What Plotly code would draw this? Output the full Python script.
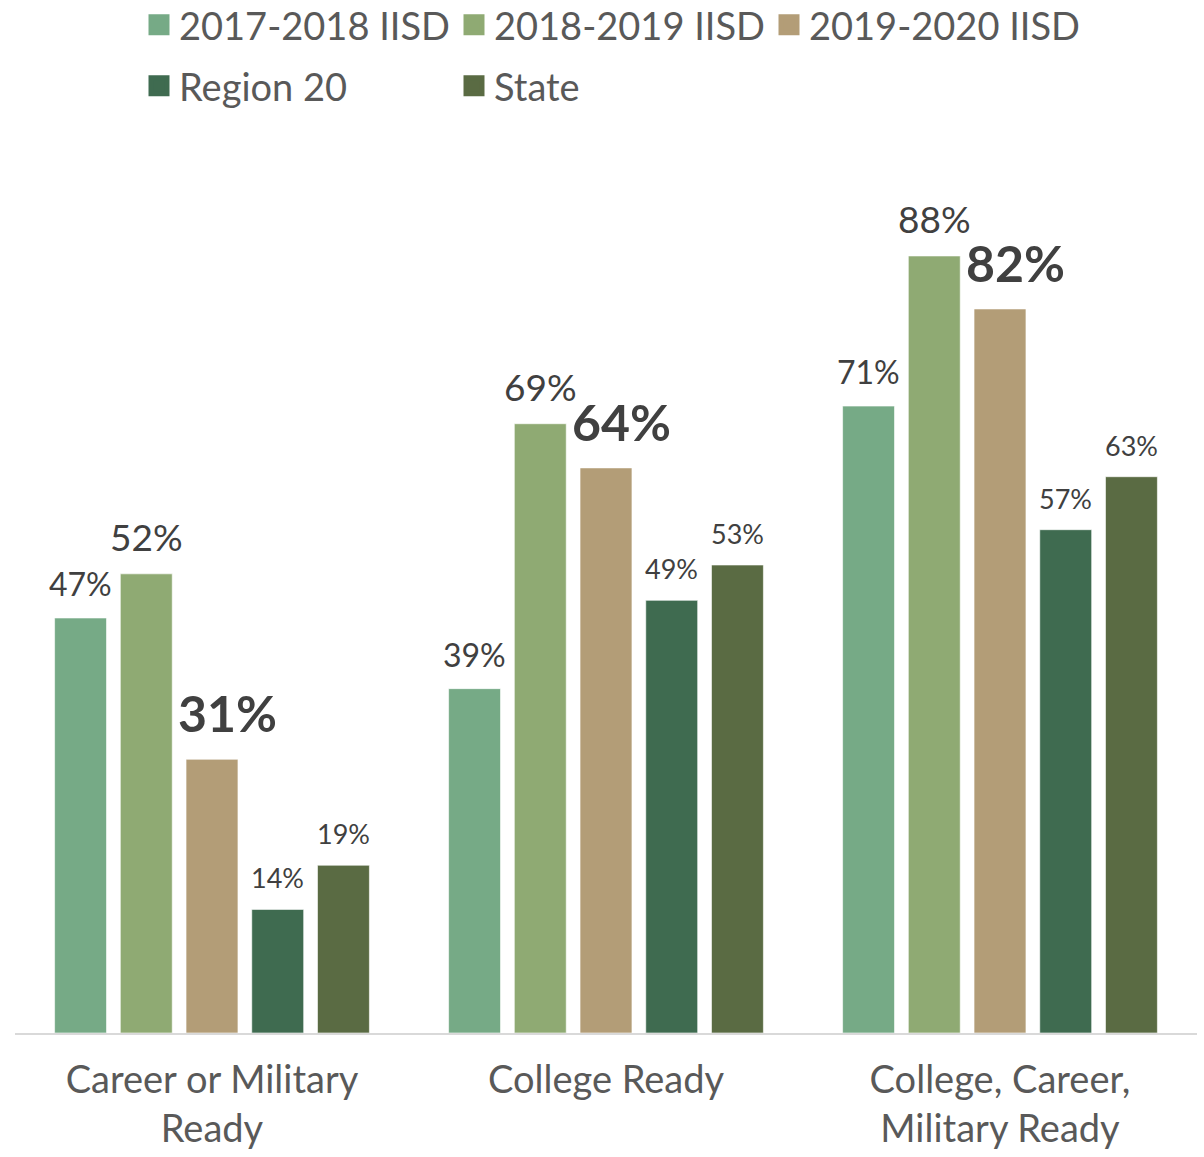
import plotly.graph_objects as go

categories = ["Career or Military<br>Ready", "College Ready", "College, Career,<br>Military Ready"]
series_names = ["2017-2018 IISD", "2018-2019 IISD", "2019-2020 IISD", "Region 20", "State"]
values_1718 = [47, 39, 71]
values_1819 = [52, 69, 88]
values_1920 = [31, 64, 82]
values_region20 = [14, 49, 57]
values_state = [19, 53, 63]

series_values = [values_1718, values_1819, values_1920, values_region20, values_state]
colors = ["#76AA86", "#8FAA73", "#B39D77", "#3F6B50", "#5A6B43"]
label_sizes = [32, 37, 50, 27, 27]
label_bold = [False, False, True, False, False]
label_gap = [13, 13, 14, 13, 13]
label_dx = [0, 0, 15, 0, 0]
legend_of = ["legend", "legend", "legend", "legend2", "legend2"]

FONT = "Lato"
W, H = 1204, 1157
ML, MR, MT, MB = 15, 7, 150, 124
BARGAP, BARGROUPGAP = 0.166, 0.21

fig = go.Figure()
for name, vals, col in zip(series_names, series_values, colors):
    fig.add_trace(go.Bar(
        name=name, x=categories, y=vals, showlegend=False,
        marker=dict(color=col, line=dict(color="rgba(255,255,255,0.6)", width=1)),
        hoverinfo="skip",
    ))

# legend entries (square swatches)
for name, col, lg in zip(series_names, colors, legend_of):
    fig.add_trace(go.Scatter(
        name=name, x=[None], y=[None], mode="markers", legend=lg,
        marker=dict(symbol="square", size=16, color=col, line=dict(color=col, width=5)),
        showlegend=True, hoverinfo="skip",
    ))

# data labels above bars
plot_w = W - ML - MR
cat_w = plot_w / len(categories)
slot = cat_w * (1 - BARGAP) / len(series_names)
n = len(series_names)
for i, (vals, sz, bold, gap, dx) in enumerate(zip(series_values, label_sizes, label_bold, label_gap, label_dx)):
    off = (i - (n - 1) / 2) * slot
    for cat, v in zip(categories, vals):
        txt = f"<b>{v}%</b>" if bold else f"{v}%"
        fig.add_annotation(
            x=cat, y=v, xref="x", yref="y", text=txt, showarrow=False,
            xanchor="center", yanchor="bottom", xshift=off + dx, yshift=gap,
            font=dict(family=FONT, size=sz, color="#404040"),
        )

leg_common = dict(
    orientation="h", xref="container", yref="container",
    x=139 / W, xanchor="left", yanchor="middle",
    entrywidth=270, entrywidthmode="pixels",
    font=dict(family=FONT, size=38, color="#595959"),
    itemsizing="trace", bgcolor="rgba(0,0,0,0)",
)
fig.update_layout(
    width=W, height=H,
    margin=dict(l=ML, r=MR, t=MT, b=MB),
    paper_bgcolor="white", plot_bgcolor="white",
    barmode="group", bargap=BARGAP, bargroupgap=BARGROUPGAP,
    font=dict(family=FONT, color="#595959"),
    legend=dict(**leg_common, y=1 - 25 / H),
    legend2=dict(**leg_common, y=1 - 86 / H),
    showlegend=True,
)
fig.update_xaxes(
    showline=True, linecolor="#D9D9D9", linewidth=2, automargin=False,
    showgrid=False, ticks="", ticklabelstandoff=12,
    tickfont=dict(family=FONT, size=38, color="#595959"),
)
fig.update_yaxes(
    range=[0, 100], visible=False, showgrid=False, zeroline=False, automargin=False,
)

fig.write_html("out.html")
